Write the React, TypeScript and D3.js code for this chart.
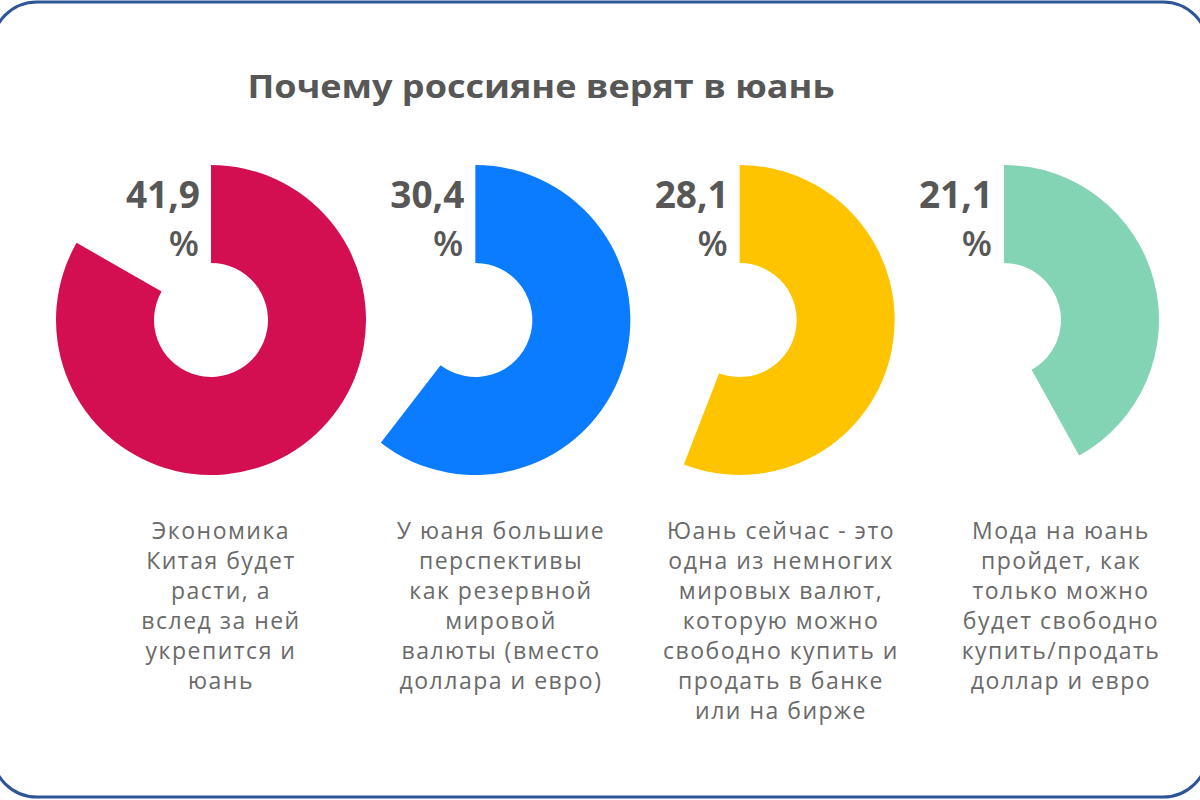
import React from 'react';
import * as d3 from 'd3';

// данные опроса
const title = 'Почему россияне верят в юань';
const reasonKeys = ['economy', 'reserve', 'free', 'fashion'];
const shares = [41.9, 30.4, 28.1, 21.1];
const colors = ['#D40F51', '#0B7BFF', '#FFC400', '#83D3B5'];
const captions = [
  ['Экономика', 'Китая будет', 'расти, а', 'вслед за ней', 'укрепится и', 'юань'],
  ['У юаня большие', 'перспективы', 'как резервной', 'мировой', 'валюты (вместо', 'доллара и евро)'],
  ['Юань сейчас - это', 'одна из немногих', 'мировых валют,', 'которую можно', 'свободно купить и', 'продать в банке', 'или на бирже'],
  ['Мода на юань', 'пройдет, как', 'только можно', 'будет свободно', 'купить/продать', 'доллар и евро'],
];

const W = 1200;
const H = 800;
const FONT = "'Open Sans', 'DejaVu Sans', sans-serif";
const TEXT_GRAY = '#575757';

const App: React.FC = () => {
  // позиции кругов и подписей
  const xPie = d3.scalePoint<string>().domain(reasonKeys).range([211, 1004]);
  const xCaption = d3.scalePoint<string>().domain(reasonKeys).range([221, 1061]);
  const cy = 320;
  const outerR = 155;
  const innerR = 57;

  // доля -> угол (кольцо заполнено не до 100%)
  const angle = d3.scaleLinear().domain([0, 50.3]).range([0, 2 * Math.PI]);
  const arc = d3.arc<number>()
    .innerRadius(innerR)
    .outerRadius(outerR)
    .startAngle(0)
    .endAngle((d) => angle(d));

  const fmt = (v: number) => d3.format('.1f')(v).replace('.', ',');

  return (
    <>
      <style>{'body{margin:0;background:#fff}'}</style>
      <svg width={W} height={H} style={{ display: 'block' }}>
        <rect x={-8} y={2} width={W + 16} height={H - 5} rx={45} ry={45}
          fill="#fff" stroke="#2E5596" strokeWidth={3} />
        <text x={541} y={98} textAnchor="middle" fontFamily={FONT} fontWeight={700}
          fontSize={32} fill={TEXT_GRAY} textLength={587} lengthAdjust="spacingAndGlyphs">
          {title}
        </text>
        {reasonKeys.map((key, i) => {
          const cx = xPie(key)!;
          return (
            <g key={key}>
              <path d={arc(shares[i]) || ''} transform={`translate(${cx},${cy})`} fill={colors[i]} />
              <text x={cx - 11} y={208} textAnchor="end" fontFamily={FONT} fontWeight={700}
                fontSize={37} fill={TEXT_GRAY}>
                {fmt(shares[i])}
              </text>
              <text x={cx - 12} y={256} textAnchor="end" fontFamily={FONT} fontWeight={600}
                fontSize={35} fill={TEXT_GRAY}>
                %
              </text>
              <text textAnchor="middle" fontFamily={FONT} fontSize={23} fill="#6A6A6A"
                letterSpacing={1.5}>
                {captions[i].map((line, j) => (
                  <tspan key={j} x={xCaption(key)} y={539 + j * 30}>{line}</tspan>
                ))}
              </text>
            </g>
          );
        })}
      </svg>
    </>
  );
};

export default App;
